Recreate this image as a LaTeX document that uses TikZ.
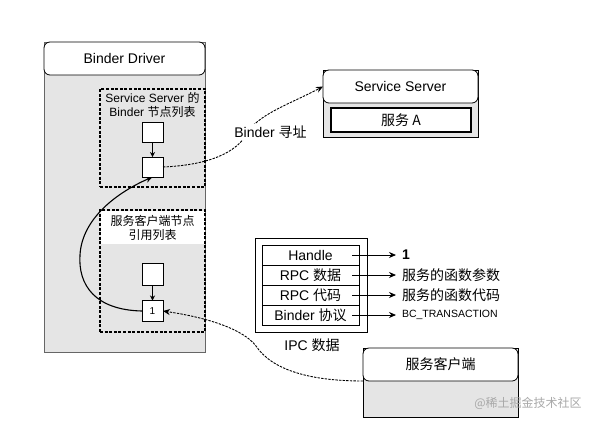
\documentclass[tikz,border=0pt]{standalone}
\usepackage{fontspec}
\setmainfont{Liberation Sans}
\newfontfamily\cjk{Noto Sans CJK SC}
\usetikzlibrary{arrows.meta}
\definecolor{bodygray}{HTML}{E5E5E5}
\definecolor{wmgray}{HTML}{A8A8A8}
\begin{document}
\begin{tikzpicture}[x=1pt,y=-1pt,
  every node/.style={inner sep=0pt, outer sep=0pt},
  bodybox/.style={draw=black, line width=0.8pt, fill=bodygray},
  headbox/.style={draw=black, line width=0.8pt, fill=white, rounded corners=6pt, font=\fontsize{14}{16}\selectfont},
  dashbox/.style={draw=black, line width=1.1pt, dash pattern=on 3pt off 1.6pt},
  smallbox/.style={draw=black, line width=0.8pt, fill=white, minimum width=21pt, minimum height=20pt, font=\fontsize{10}{12}\selectfont},
  rowbox/.style={draw=black, line width=0.8pt, fill=white, minimum width=97pt, minimum height=20pt, font=\fontsize{14}{16}\selectfont},
  tip/.style={-{Stealth[length=7pt,width=6pt]}},
  lbl/.style={font=\fontsize{14}{16}\selectfont},
  conn/.style={line width=0.9pt, dash pattern=on 2.4pt off 1.2pt}
]
\useasboundingbox (0,0) rectangle (597,424);

% ---------- Binder Driver ----------
\node[bodybox, draw=gray!80!black, minimum width=161pt, minimum height=310pt] (drvbody) at (124.5,197) {};
\node[headbox, minimum width=161pt, minimum height=33pt] (drvhead) at (124.5,58.5) {Binder Driver};

\node[fill=white, minimum width=104pt, minimum height=33pt] (cltxtbg) at (152.5,227) {};
\node[dashbox, minimum width=105pt, minimum height=98pt] (dash1) at (152.5,138) {};
\node[dashbox, minimum width=105pt, minimum height=122pt] (dash2) at (152.5,271) {};

\node[align=center, font=\fontsize{12}{14}\selectfont] (t1) at (152.5,105)
  {Service Server {\cjk 的}\\Binder {\cjk 节点列表}};
\node[align=center, font=\cjk\fontsize{12}{14}\selectfont] (t2) at (152.5,228)
  {服务客户端节点\\引用列表};

\node[smallbox] (sA) at (152.5,132) {};
\node[smallbox] (sB) at (152.5,167) {};
\node[smallbox, minimum height=22pt] (sC) at (152.5,274) {};
\node[smallbox, minimum height=21pt] (s1) at (152.5,311) {1};

\draw[-{Stealth[length=5pt,width=5pt]}, line width=0.8pt] (sA) -- (sB);
\draw[-{Stealth[length=5pt,width=5pt]}, line width=0.8pt] (sC) -- (s1);

% ---------- Service Server ----------
\node[bodybox, minimum width=155pt, minimum height=67pt] (ssbody) at (400.5,103.5) {};
\node[headbox, minimum width=155pt, minimum height=33pt] (sshead) at (400.5,86.5) {Service Server};
\node[draw=black, line width=2.5pt, fill=white, minimum width=140pt, minimum height=24pt, font=\cjk\fontsize{14}{16}\selectfont] (svcA) at (401,120) {服务 A};

% ---------- IPC data ----------
\node[draw=black, line width=0.8pt, fill=white, minimum width=112pt, minimum height=94pt] (ipc) at (311,285) {};
\node[rowbox] (r1) at (310.5,255) {Handle};
\node[rowbox] (r2) at (310.5,275) {RPC {\cjk 数据}};
\node[rowbox] (r3) at (310.5,295) {RPC {\cjk 代码}};
\node[rowbox] (r4) at (310.5,315) {Binder {\cjk 协议}};
\node[lbl] (ipclbl) at (312,345) {IPC {\cjk 数据}};

\node[lbl, anchor=west, inner xsep=6pt] (v1) at (396,255) {\textbf{1}};
\node[lbl, anchor=west, inner xsep=6pt, font=\cjk\fontsize{14}{16}\selectfont] (v2) at (396,275) {服务的函数参数};
\node[lbl, anchor=west, inner xsep=6pt, font=\cjk\fontsize{14}{16}\selectfont] (v3) at (396,295) {服务的函数代码};
\node[anchor=west, inner xsep=6pt, font=\fontsize{10.5}{12}\selectfont] (v4) at (396,315) {BC\_TRANSACTION};

\draw[tip, line width=0.8pt] ([xshift=-7pt]r1.east) -- (v1.west);
\draw[tip, line width=0.8pt] ([xshift=-7pt]r2.east) -- (v2.west);
\draw[tip, line width=0.8pt] ([xshift=-7pt]r3.east) -- (v3.west);
\draw[tip, line width=0.8pt] ([xshift=-7pt]r4.east) -- (v4.west);

% ---------- Service client ----------
\node[bodybox, minimum width=155pt, minimum height=69pt] (clbody) at (440.5,382.5) {};
\node[headbox, minimum width=155pt, minimum height=33pt, font=\cjk\fontsize{14}{16}\selectfont] (clhead) at (440.5,364.5) {服务客户端};

% ---------- connectors ----------
\draw[tip, line width=1.1pt] (s1.west) .. controls (95,310) and (78,285) .. (80,255)
  .. controls (82,218) and (118,192) .. (sB.south);

\draw[conn, tip] (sB.east) .. controls (210,165) and (236,152) .. (246,135)
  .. controls (256,115) and (290,104) .. (sshead.west);
\node[lbl, fill=white, inner sep=2pt] (addr) at (270.5,132) {Binder {\cjk 寻址}};

\draw[conn, tip] (clhead.south west) .. controls (310,381) and (272,370) .. (256,346)
  .. controls (244,330) and (210,318) .. (s1.east);

% watermark
\node[text=wmgray, font=\cjk\fontsize{12}{14}\selectfont] (wm) at (528,403) {@稀土掘金技术社区};
\end{tikzpicture}
\end{document}
